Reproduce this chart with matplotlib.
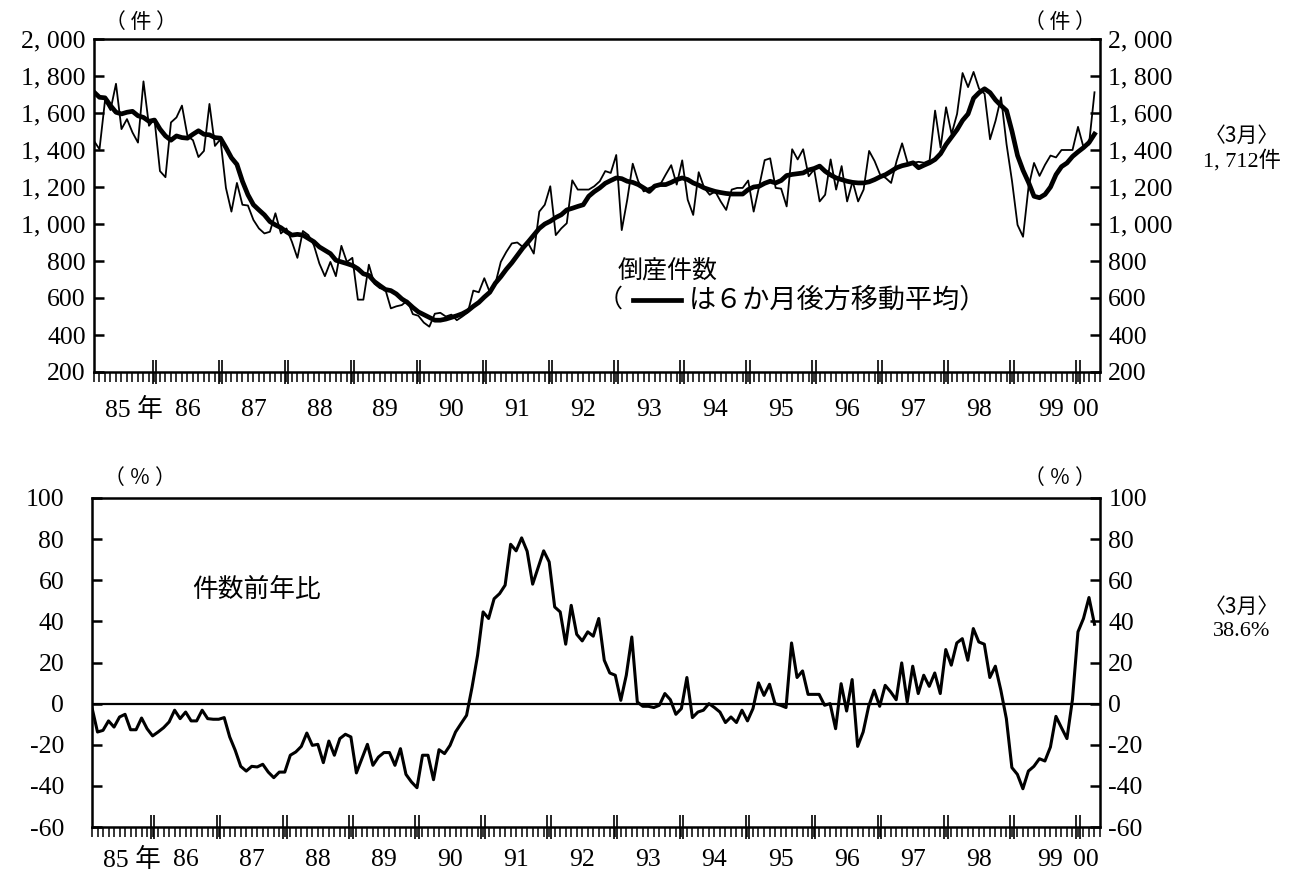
import matplotlib
matplotlib.use("Agg")
import matplotlib.pyplot as plt
from matplotlib.lines import Line2D
import numpy as np

plt.rcParams['font.family'] = ['Liberation Serif', 'Noto Sans CJK JP']
JP = ['Noto Sans CJK JP', 'DejaVu Sans']
MIX = ['Liberation Serif', 'Noto Sans CJK JP']

# monthly bankruptcy counts, Jan 1985 .. Mar 2000
counts = [1449, 1404, 1667, 1616, 1758, 1513, 1567, 1495, 1440, 1771, 1531, 1567,
          1286, 1253, 1549, 1576, 1640, 1476, 1453, 1362, 1395, 1649, 1422, 1458,
          1195, 1067, 1222, 1104, 1100, 1022, 976, 949, 958, 1058, 949, 976,
          904, 817, 962, 940, 885, 786, 718, 795, 718, 882, 795, 817,
          591, 591, 780, 677, 653, 646, 544, 555, 562, 586, 513, 504,
          467, 445, 515, 520, 500, 510, 480, 500, 522, 640, 631, 707,
          631, 676, 795, 849, 895, 900, 876, 895, 840, 1067, 1104, 1204,
          940, 976, 1004, 1236, 1186, 1186, 1186, 1204, 1231, 1286, 1276, 1373,
          967, 1131, 1326, 1231, 1176, 1195, 1204, 1213, 1267, 1318, 1213, 1344,
          1131, 1049, 1280, 1195, 1158, 1176, 1122, 1076, 1186, 1195, 1195, 1235,
          1067, 1204, 1345, 1355, 1195, 1191, 1095, 1404, 1349, 1404, 1258, 1295,
          1122, 1158, 1349, 1186, 1313, 1122, 1231, 1122, 1186, 1395, 1340, 1267,
          1249, 1222, 1340, 1436, 1331, 1331, 1336, 1331, 1344, 1613, 1413, 1631,
          1486, 1595, 1816, 1740, 1822, 1731, 1704, 1458, 1558, 1685, 1431, 1231,
          995, 931, 1200, 1330, 1260, 1320, 1370, 1360, 1400, 1400, 1400, 1525,
          1415, 1430, 1712]

# 6-month trailing moving average (thick line)
ma6 = [1713, 1685, 1682, 1640, 1604, 1595, 1604, 1609, 1585, 1576, 1555, 1562,
       1513, 1476, 1453, 1476, 1467, 1464, 1485, 1504, 1485, 1482, 1467, 1464,
       1413, 1358, 1322, 1231, 1158, 1104, 1076, 1049, 1013, 995, 980, 958,
       940, 944, 940, 922, 904, 876, 858, 840, 804, 795, 786, 776,
       758, 731, 722, 689, 667, 646, 640, 622, 595, 576, 549, 525,
       510, 495, 480, 480, 486, 495, 504, 515, 531, 555, 576, 605,
       631, 680, 715, 755, 790, 830, 870, 904, 940, 976, 1000, 1015,
       1035, 1050, 1076, 1085, 1095, 1104, 1150, 1175, 1195, 1220, 1235, 1249,
       1245, 1231, 1225, 1213, 1195, 1176, 1205, 1213, 1213, 1225, 1240, 1249,
       1240, 1222, 1210, 1195, 1185, 1176, 1170, 1165, 1162, 1162, 1162, 1186,
       1200, 1204, 1220, 1231, 1222, 1235, 1262, 1268, 1272, 1276, 1292, 1300,
       1313, 1285, 1265, 1249, 1240, 1231, 1225, 1222, 1222, 1228, 1240, 1255,
       1267, 1285, 1304, 1315, 1322, 1331, 1304, 1318, 1331, 1349, 1380, 1430,
       1470, 1510, 1560, 1595, 1680, 1710, 1731, 1710, 1670, 1640, 1613, 1500,
       1370, 1290, 1225, 1150, 1142, 1160, 1200, 1267, 1310, 1330, 1365, 1390,
       1413, 1440, 1486]

# year-on-year change of counts (%)
yoy = [-2, -13.8, -13, -8.4, -11.4, -6.5, -5.2, -12.7, -12.7, -7, -12.2, -15.7,
       -13.8, -11.7, -8.9, -3.2, -7.3, -4.1, -8.4, -8.4, -3.2, -7.3, -7.6, -7.6,
       -6.8, -16.2, -22.7, -30.5, -32.8, -30.5, -30.8, -29.5, -33.3, -36, -33.3, -33.3,
       -25.1, -23.5, -20.8, -14.3, -20.3, -19.8, -28.7, -18.2, -25.1, -17, -14.9, -16.2,
       -33.7, -26.8, -19.8, -30, -26, -23.8, -23.8, -30, -21.9, -34.4, -38.1, -40.9,
       -25.1, -25.1, -37, -22.4, -24.3, -20.3, -13.8, -9.7, -5.7, 8, 23.5, 44.6,
       41.4, 51, 53.5, 57.6, 77.5, 74.3, 80.6, 74.1, 58.1, 66.2, 74.3, 68.9,
       47, 44.6, 28.9, 47.8, 33.7, 30.5, 34.9, 32.8, 41.4, 21.1, 14.9, 13.8,
       1.6, 13.8, 32.4, 0.8, -1.3, -1.3, -1.9, -0.8, 4.9, 1.9, -5.2, -2.4,
       12.7, -6.8, -4.1, -3.2, 0, -1.9, -4.1, -9.2, -6.5, -9.2, -3.2, -8.4,
       -2.4, 10.1, 4, 9.4, 0, -0.8, -1.9, 29.5, 12.7, 15.9, 4.5, 4.5,
       4.5, -0.8, 0, -12.2, 9.7, -3.6, 11.7, -20.8, -13.8, -1.3, 6.5, -1.3,
       8.9, 5.7, 1.9, 19.8, 0.8, 18.2, 4.9, 13.8, 8.4, 14.9, 4.9, 26.3,
       18.7, 29.5, 31.6, 21.1, 36.5, 30, 28.9, 12.7, 18.2, 6.5, -7.3, -31.1,
       -34.4, -41.4, -32.8, -30.5, -26.8, -27.9, -21.1, -6.2, -11.7, -17, 2, 34.9,
       41.4, 51.6, 38.6]

year_labels = ['85 年', '86', '87', '88', '89', '90', '91', '92', '93', '94',
               '95', '96', '97', '98', '99', '00']
top_ticks = [200, 400, 600, 800, 1000, 1200, 1400, 1600, 1800, 2000]
bot_ticks = [-60, -40, -20, 0, 20, 40, 60, 80, 100]

months = np.arange(len(counts))
W, H = 1300, 877
fig = plt.figure(figsize=(W / 100, H / 100), dpi=100)


def fx(px):
    return px / W


def fy(py):
    return 1 - py / H


ax1 = fig.add_axes([fx(94), fy(372), fx(1100) - fx(94), fy(39) - fy(372)])
ax2 = fig.add_axes([fx(92), fy(827), fx(1100) - fx(92), fy(498) - fy(827)])

ax1.plot(months, counts, color='black', lw=1.3)
ax1.plot(months, ma6, color='black', lw=3.4, solid_joinstyle='round')
ax2.plot(months, yoy, color='black', lw=2.2)
ax2.axhline(0, color='black', lw=1.6)


def style(ax, ticks, labels, label_y):
    ax.set_xlim(0, len(counts))
    ax.set_yticks(ticks)
    ax.set_yticklabels(labels)
    ax.tick_params(axis='y', which='major', direction='in', length=7, width=1.8,
                   left=True, right=True, labelleft=True, labelright=True,
                   labelsize=18.5, pad=6)
    # month ticks and double year marks
    ax.set_xticks(np.arange(0, len(counts) + 1), minor=True)
    ends = np.arange(11, len(counts), 12)
    ax.set_xticks(np.concatenate([ends - 0.32, ends + 0.32]))
    ax.set_xticklabels([])
    ax.tick_params(axis='x', which='minor', direction='out', length=7, width=1.1)
    ax.tick_params(axis='x', which='major', direction='inout', length=17, width=1.2)
    for s in ax.spines.values():
        s.set_linewidth(1.8)
    trans = ax.get_xaxis_transform()
    for k, lab in enumerate(year_labels):
        if k == 0:
            xpos = 7.2
        elif k == len(year_labels) - 1:
            xpos = 180.5
        elif k == len(year_labels) - 2:
            xpos = 174
        else:
            xpos = 12 * k + 5
        ax.text(xpos, label_y, lab, transform=trans,
                ha='center', va='center', fontsize=18.5, family=MIX)


style(ax1, top_ticks, [f"{v:,}".replace(',', ', ') for v in top_ticks], -0.115)
ax1.set_ylim(200, 2000)
style(ax2, bot_ticks, [str(v) for v in bot_ticks], -0.1)
ax2.set_ylim(-60, 100)

# left labels of the lower panel sit further from the frame: separate twin axis
ax2_left = ax2.twinx()
ax2_left.set_ylim(ax2.get_ylim())
ax2_left.yaxis.set_ticks_position('left')
ax2_left.set_yticks(bot_ticks)
ax2_left.set_yticklabels([str(v) for v in bot_ticks])
ax2_left.tick_params(axis='y', length=0, pad=20, labelsize=18.5,
                     labelleft=True, labelright=False)
for s in ax2_left.spines.values():
    s.set_visible(False)
ax2.tick_params(axis='y', which='major', left=True, right=True,
                labelleft=False, labelright=True)

# unit labels
for px, py in [(141, 22), (1060, 22)]:
    fig.text(fx(px), fy(py), '（ 件 ）', ha='center', va='center', fontsize=15, family=JP)
for px, py in [(140, 478), (1060, 478)]:
    fig.text(fx(px), fy(py), '（ ％ ）', ha='center', va='center', fontsize=15, family=JP)

# in-panel annotations
fig.text(fx(618), fy(270), '倒産件数', ha='left', va='center', fontsize=18, family=JP)
fig.text(fx(598), fy(300), '（', ha='left', va='center', fontsize=18, family=JP)
fig.add_artist(Line2D([fx(633), fx(681)], [fy(300), fy(300)], color='black', lw=3.4))
fig.text(fx(689), fy(300), 'は６か月後方移動平均）', ha='left', va='center',
         fontsize=19.5, family=JP)
fig.text(fx(192), fy(590), '件数前年比', ha='left', va='center', fontsize=18.5, family=JP)

# latest values
fig.text(fx(1242), fy(136), '〈3月〉', ha='center', va='center', fontsize=15, family=JP)
fig.text(fx(1242), fy(161), '1, 712件', ha='center', va='center', fontsize=16, family=MIX)
fig.text(fx(1242), fy(607), '〈3月〉', ha='center', va='center', fontsize=15, family=JP)
fig.text(fx(1242), fy(632), '38.6%', ha='center', va='center', fontsize=16, family=MIX)

fig.savefig('out.png', dpi=100)
